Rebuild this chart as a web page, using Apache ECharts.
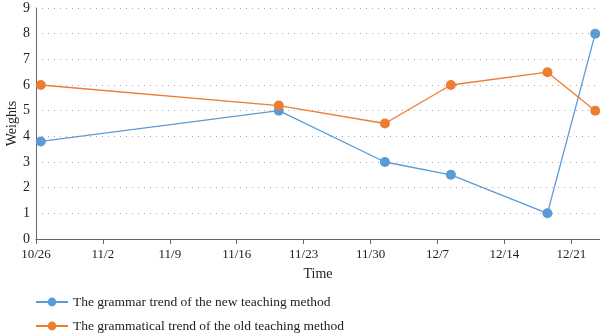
<!DOCTYPE html>
<html><head><meta charset="utf-8">
<script src="https://cdn.jsdelivr.net/npm/echarts@6/dist/echarts.min.js"></script>
<style>html,body{margin:0;padding:0;background:#fff}#c{width:600px;height:333px}</style>
</head><body><div id="c"></div>
<script>
var tickLabels = ['10/26','11/2','11/9','11/16','11/23','11/30','12/7','12/14','12/21'];
var pointDays = [0.5, 25.4, 36.5, 43.4, 53.5, 58.5];
var newMethod = [3.8, 5.0, 3.0, 2.5, 1.0, 8.0];
var oldMethod = [6.0, 5.2, 4.5, 6.0, 6.5, 5.0];
var seriesNames = ['The grammar trend of the new teaching method','The grammatical trend of the old teaching method'];

function pairs(ys){ return ys.map(function(y,i){ return [pointDays[i], y]; }); }
var font = 'Liberation Serif';
function legendItem(name, top){
  return {
    left:30, top:top, itemWidth:32, itemHeight:11, itemGap:8,
    textStyle:{fontFamily:font, fontSize:13.5, color:'#222'},
    data:[name]
  };
}
var chart = echarts.init(document.getElementById('c'));
chart.setOption({
  animation:false,
  grid:{left:36, right:0, top:8, bottom:94, containLabel:false, outerBoundsMode:'none'},
  legend:[legendItem(seriesNames[0], 290), legendItem(seriesNames[1], 314)],
  xAxis:{
    type:'value', min:0, max:59, interval:7,
    name:'Time', nameLocation:'middle', nameGap:28, nameMoveOverlap:false,
    nameTextStyle:{fontFamily:font, fontSize:14, color:'#222'},
    axisLine:{lineStyle:{color:'#666', width:1}},
    axisTick:{show:true, length:5, lineStyle:{color:'#666'}},
    axisLabel:{fontFamily:font, fontSize:13, color:'#222', margin:9,
      formatter:function(v){ var i=Math.round(v/7); return tickLabels[i]||''; }},
    splitLine:{show:false}
  },
  yAxis:{
    type:'value', min:0, max:9, interval:1,
    name:'Weights', nameLocation:'middle', nameGap:17, nameMoveOverlap:false,
    nameTextStyle:{fontFamily:font, fontSize:14, color:'#222'},
    axisLine:{show:true, lineStyle:{color:'#666', width:1}},
    axisTick:{show:false},
    axisLabel:{fontFamily:font, fontSize:14, color:'#222', margin:6},
    splitLine:{show:true, lineStyle:{color:'#aaa', type:[1,5], width:1}}
  },
  series:[
    {name:seriesNames[0], type:'line', data:pairs(newMethod), symbol:'circle', symbolSize:10,
     itemStyle:{color:'#5B9BD5'}, lineStyle:{color:'#5B9BD5', width:1.3}},
    {name:seriesNames[1], type:'line', data:pairs(oldMethod), symbol:'circle', symbolSize:10,
     itemStyle:{color:'#ED7D31'}, lineStyle:{color:'#ED7D31', width:1.3}}
  ]
});
</script></body></html>
